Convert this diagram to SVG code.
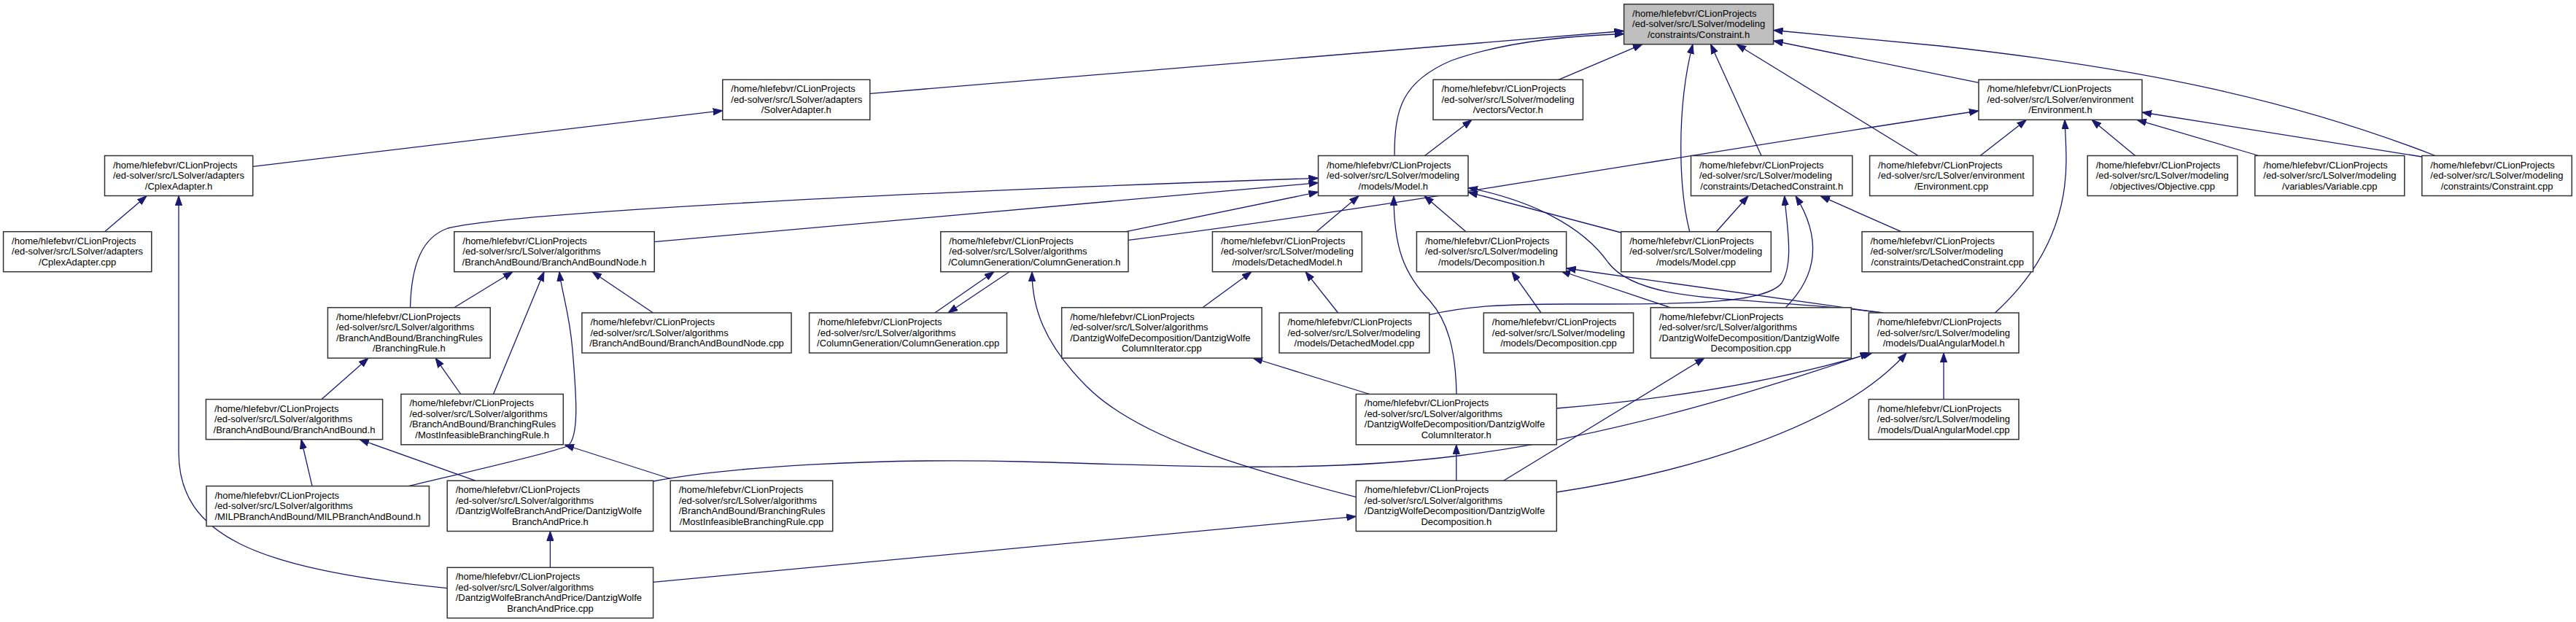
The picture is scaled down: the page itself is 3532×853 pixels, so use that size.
<svg xmlns="http://www.w3.org/2000/svg" width="3532" height="853" viewBox="0 0 3532 853">
<style>
.n rect{fill:#fff;stroke:#333;stroke-width:1.5}
.n rect.g{fill:#bfbfbf}
.n text{font-family:"Liberation Sans",Arial,Helvetica,sans-serif;font-size:13px;fill:#000}
.n text.c{text-anchor:middle}
#edges path{fill:none;stroke:#191970;stroke-width:1.3;marker-end:url(#ah)}
</style>
<defs>
<marker id="ah" viewBox="0 0 13 10" refX="13" refY="5" markerWidth="13" markerHeight="10" markerUnits="userSpaceOnUse" orient="auto"><path d="M0,0.4 L13,5 L0,9.6 z" fill="#191970" stroke="#191970" stroke-width="1"/></marker>
</defs>
<rect width="3532" height="853" fill="#fff"/>
<g id="edges">
<path d="M1192.8,128.3 L2226.6,42.5"/>
<path d="M1912,213.5 C1912,150 1922,112 1990,83 C2060,58 2150,49 2226.6,46.5"/>
<path d="M2137,109.3 L2252,60.7"/>
<path d="M2316.7,317.7 C2302,260 2298,150 2321,60.7"/>
<path d="M2415,213.5 L2345.5,60.7"/>
<path d="M2630,213.5 L2381,60.7"/>
<path d="M2713,113.3 L2431.6,56"/>
<path d="M3339,213.5 C3150,140 2950,95 2660,63 C2560,53 2480,46 2431.6,41.5"/>
<path d="M346.7,228.3 L990.8,151.7"/>
<path d="M143.5,317.7 L201,268.7"/>
<path d="M613.2,806.7 C350,780 245,735 245,620 L245,268.7"/>
<path d="M1953.5,213.5 L2018,164.3"/>
<path d="M562.5,421.7 C564,360 580,325 614,313 C700,292 1200,265 1807.5,244.3"/>
<path d="M897.2,331.7 L1807.5,250.7"/>
<path d="M1544,317.7 L1807.5,263.3"/>
<path d="M1547,329.3 C1900,285 2250,222 2713,152"/>
<path d="M1805,317.7 L1863,268.7"/>
<path d="M2010,317.7 L1953,268.7"/>
<path d="M1997,540.5 C1996,480 1985,440 1960,412 C1925,375 1911,340 1911,268.7"/>
<path d="M2222.7,319 L2013,263.5"/>
<path d="M2581.7,429 C2400,405 2250,420 2205,360 C2170,310 2100,275 2013,257.5"/>
<path d="M2580,429 L2147.7,368"/>
<path d="M2290,421.7 L2140,371.5"/>
<path d="M2113,429 L2073,372.7"/>
<path d="M1834.6,429 L1790,372.7"/>
<path d="M1649,421.7 L1716,372.7"/>
<path d="M2353.3,317.7 L2397,268.7"/>
<path d="M1959.8,431.7 C2010,420 2060,417 2150,417 C2300,417 2420,418 2443,388 C2460,360 2450,310 2446.7,268.7"/>
<path d="M2448.3,421.7 C2490,380 2500,330 2462,268.7"/>
<path d="M2606.7,317.7 L2496,268.7"/>
<path d="M2715.2,213.5 L2778.4,164.3"/>
<path d="M2735.4,429 C2800,370 2833,300 2833,220 C2833,200 2832,185 2831,164.3"/>
<path d="M2927.6,213.5 L2868,164.3"/>
<path d="M3097,213.5 L2930,164.3"/>
<path d="M3320.8,215 L2937,154"/>
<path d="M1281.8,429 L1363,372.7"/>
<path d="M1384,372.7 L1300,429"/>
<path d="M1859.3,681.7 C1700,640 1560,600 1490,530 C1430,470 1415,420 1415,372.7"/>
<path d="M895.6,798.3 L1859.3,708.3"/>
<path d="M1996.8,659.2 L1996.8,609.8"/>
<path d="M2061.5,659.2 L2337,491"/>
<path d="M2134.3,675 C2300,650 2520,590 2614,484"/>
<path d="M1877.7,540.5 L1718,491"/>
<path d="M2134.3,560 Q2380,540 2567,484"/>
<path d="M895.6,660 C1000,640 1200,628 1400,633 C1600,638 1800,650 2000,625 C2200,600 2400,540 2563.6,484"/>
<path d="M2665,547.6 L2665,484"/>
<path d="M754.4,778.3 L754.4,728.5"/>
<path d="M651.7,659.2 L493,602.6"/>
<path d="M428,666.6 L413,602.6"/>
<path d="M441,547.6 L505,491.1"/>
<path d="M631.7,540.5 L597,491.1"/>
<path d="M622.8,421.7 L703,372.7"/>
<path d="M676.5,540.5 L746,372.7"/>
<path d="M560,666.6 C650,645 740,625 778,612 C795,600 790,540 785,480 C781,430 770,400 767,372.7"/>
<path d="M919.2,656.5 L774,610"/>
<path d="M895.4,429 L812,372.7"/>
</g>
<g id="n_constraint_h" class="n"><rect class="g" x="2226.6" y="5.7" width="205" height="55"/><text x="2238.1" y="22.7">/home/hlefebvr/CLionProjects</text><text x="2238.1" y="37.2">/ed-solver/src/LSolver/modeling</text><text class="c" x="2329.1" y="51.7">/constraints/Constraint.h</text></g>
<g id="n_solveradapter_h" class="n"><rect x="990.8" y="109.3" width="202" height="55"/><text x="1002.3" y="126.3">/home/hlefebvr/CLionProjects</text><text x="1002.3" y="140.8">/ed-solver/src/LSolver/adapters</text><text class="c" x="1091.8" y="155.3">/SolverAdapter.h</text></g>
<g id="n_vector_h" class="n"><rect x="1965" y="109.3" width="205.4" height="55"/><text x="1976.5" y="126.3">/home/hlefebvr/CLionProjects</text><text x="1976.5" y="140.8">/ed-solver/src/LSolver/modeling</text><text class="c" x="2067.7" y="155.3">/vectors/Vector.h</text></g>
<g id="n_environment_h" class="n"><rect x="2713" y="109.3" width="224" height="55"/><text x="2724.5" y="126.3">/home/hlefebvr/CLionProjects</text><text x="2724.5" y="140.8">/ed-solver/src/LSolver/environment</text><text class="c" x="2825" y="155.3">/Environment.h</text></g>
<g id="n_cplexadapter_h" class="n"><rect x="143.5" y="213.5" width="203.2" height="55"/><text x="155" y="230.5">/home/hlefebvr/CLionProjects</text><text x="155" y="245">/ed-solver/src/LSolver/adapters</text><text class="c" x="245.1" y="259.5">/CplexAdapter.h</text></g>
<g id="n_model_h" class="n"><rect x="1807.5" y="213.5" width="205.5" height="55"/><text x="1819" y="230.5">/home/hlefebvr/CLionProjects</text><text x="1819" y="245">/ed-solver/src/LSolver/modeling</text><text class="c" x="1910.3" y="259.5">/models/Model.h</text></g>
<g id="n_detachedconstraint_h" class="n"><rect x="2318.5" y="213.5" width="221.3" height="55"/><text x="2330" y="230.5">/home/hlefebvr/CLionProjects</text><text x="2330" y="245">/ed-solver/src/LSolver/modeling</text><text class="c" x="2429.2" y="259.5">/constraints/DetachedConstraint.h</text></g>
<g id="n_environment_cpp" class="n"><rect x="2563.6" y="213.5" width="224" height="55"/><text x="2575.1" y="230.5">/home/hlefebvr/CLionProjects</text><text x="2575.1" y="245">/ed-solver/src/LSolver/environment</text><text class="c" x="2675.6" y="259.5">/Environment.cpp</text></g>
<g id="n_objective_cpp" class="n"><rect x="2862.2" y="213.5" width="205.5" height="55"/><text x="2873.7" y="230.5">/home/hlefebvr/CLionProjects</text><text x="2873.7" y="245">/ed-solver/src/LSolver/modeling</text><text class="c" x="2965" y="259.5">/objectives/Objective.cpp</text></g>
<g id="n_variable_cpp" class="n"><rect x="3091.8" y="213.5" width="205" height="55"/><text x="3103.3" y="230.5">/home/hlefebvr/CLionProjects</text><text x="3103.3" y="245">/ed-solver/src/LSolver/modeling</text><text class="c" x="3194.3" y="259.5">/variables/Variable.cpp</text></g>
<g id="n_constraint_cpp" class="n"><rect x="3320.8" y="213.5" width="205.5" height="55"/><text x="3332.3" y="230.5">/home/hlefebvr/CLionProjects</text><text x="3332.3" y="245">/ed-solver/src/LSolver/modeling</text><text class="c" x="3423.6" y="259.5">/constraints/Constraint.cpp</text></g>
<g id="n_cplexadapter_cpp" class="n"><rect x="4.6" y="317.7" width="203.2" height="55"/><text x="16.1" y="334.7">/home/hlefebvr/CLionProjects</text><text x="16.1" y="349.2">/ed-solver/src/LSolver/adapters</text><text class="c" x="106.2" y="363.7">/CplexAdapter.cpp</text></g>
<g id="n_branchandboundnode_h" class="n"><rect x="622.8" y="317.7" width="274.4" height="55"/><text x="634.3" y="334.7">/home/hlefebvr/CLionProjects</text><text x="634.3" y="349.2">/ed-solver/src/LSolver/algorithms</text><text class="c" x="760" y="363.7">/BranchAndBound/BranchAndBoundNode.h</text></g>
<g id="n_columngeneration_h" class="n"><rect x="1289.8" y="317.7" width="257.2" height="55"/><text x="1301.3" y="334.7">/home/hlefebvr/CLionProjects</text><text x="1301.3" y="349.2">/ed-solver/src/LSolver/algorithms</text><text class="c" x="1418.4" y="363.7">/ColumnGeneration/ColumnGeneration.h</text></g>
<g id="n_detachedmodel_h" class="n"><rect x="1662.4" y="317.7" width="204.9" height="55"/><text x="1673.9" y="334.7">/home/hlefebvr/CLionProjects</text><text x="1673.9" y="349.2">/ed-solver/src/LSolver/modeling</text><text class="c" x="1764.9" y="363.7">/models/DetachedModel.h</text></g>
<g id="n_decomposition_h" class="n"><rect x="1942.4" y="317.7" width="205.2" height="55"/><text x="1953.9" y="334.7">/home/hlefebvr/CLionProjects</text><text x="1953.9" y="349.2">/ed-solver/src/LSolver/modeling</text><text class="c" x="2045" y="363.7">/models/Decomposition.h</text></g>
<g id="n_model_cpp" class="n"><rect x="2222.7" y="317.7" width="205.6" height="55"/><text x="2234.2" y="334.7">/home/hlefebvr/CLionProjects</text><text x="2234.2" y="349.2">/ed-solver/src/LSolver/modeling</text><text class="c" x="2325.5" y="363.7">/models/Model.cpp</text></g>
<g id="n_detachedconstraint_cpp" class="n"><rect x="2553" y="317.7" width="234.6" height="55"/><text x="2564.5" y="334.7">/home/hlefebvr/CLionProjects</text><text x="2564.5" y="349.2">/ed-solver/src/LSolver/modeling</text><text class="c" x="2670.3" y="363.7">/constraints/DetachedConstraint.cpp</text></g>
<g id="n_branchingrule_h" class="n"><rect x="449.4" y="421.8" width="222.8" height="69.3"/><text x="460.9" y="438.7">/home/hlefebvr/CLionProjects</text><text x="460.9" y="453.2">/ed-solver/src/LSolver/algorithms</text><text x="460.9" y="467.7">/BranchAndBound/BranchingRules</text><text class="c" x="560.8" y="482.2">/BranchingRule.h</text></g>
<g id="n_branchandboundnode_cpp" class="n"><rect x="797.9" y="429" width="287.1" height="55"/><text x="809.4" y="446">/home/hlefebvr/CLionProjects</text><text x="809.4" y="460.5">/ed-solver/src/LSolver/algorithms</text><text class="c" x="941.5" y="475">/BranchAndBound/BranchAndBoundNode.cpp</text></g>
<g id="n_columngeneration_cpp" class="n"><rect x="1109.6" y="429" width="270.9" height="55"/><text x="1121.1" y="446">/home/hlefebvr/CLionProjects</text><text x="1121.1" y="460.5">/ed-solver/src/LSolver/algorithms</text><text class="c" x="1245.1" y="475">/ColumnGeneration/ColumnGeneration.cpp</text></g>
<g id="n_columniterator_cpp" class="n"><rect x="1455.7" y="421.8" width="274.4" height="69.3"/><text x="1467.2" y="438.7">/home/hlefebvr/CLionProjects</text><text x="1467.2" y="453.2">/ed-solver/src/LSolver/algorithms</text><text x="1467.2" y="467.7">/DantzigWolfeDecomposition/DantzigWolfe</text><text class="c" x="1592.9" y="482.2">ColumnIterator.cpp</text></g>
<g id="n_detachedmodel_cpp" class="n"><rect x="1754" y="429" width="205.8" height="55"/><text x="1765.5" y="446">/home/hlefebvr/CLionProjects</text><text x="1765.5" y="460.5">/ed-solver/src/LSolver/modeling</text><text class="c" x="1856.9" y="475">/models/DetachedModel.cpp</text></g>
<g id="n_decomposition_cpp" class="n"><rect x="2034.3" y="429" width="205.3" height="55"/><text x="2045.8" y="446">/home/hlefebvr/CLionProjects</text><text x="2045.8" y="460.5">/ed-solver/src/LSolver/modeling</text><text class="c" x="2137" y="475">/models/Decomposition.cpp</text></g>
<g id="n_dwdecomposition_cpp" class="n"><rect x="2263.3" y="421.8" width="275" height="69.3"/><text x="2274.8" y="438.7">/home/hlefebvr/CLionProjects</text><text x="2274.8" y="453.2">/ed-solver/src/LSolver/algorithms</text><text x="2274.8" y="467.7">/DantzigWolfeDecomposition/DantzigWolfe</text><text class="c" x="2400.8" y="482.2">Decomposition.cpp</text></g>
<g id="n_dualangularmodel_h" class="n"><rect x="2562.3" y="429" width="205.7" height="55"/><text x="2573.8" y="446">/home/hlefebvr/CLionProjects</text><text x="2573.8" y="460.5">/ed-solver/src/LSolver/modeling</text><text class="c" x="2665.2" y="475">/models/DualAngularModel.h</text></g>
<g id="n_branchandbound_h" class="n"><rect x="282.4" y="547.6" width="242.2" height="55"/><text x="293.9" y="564.6">/home/hlefebvr/CLionProjects</text><text x="293.9" y="579.1">/ed-solver/src/LSolver/algorithms</text><text class="c" x="403.5" y="593.6">/BranchAndBound/BranchAndBound.h</text></g>
<g id="n_mibr_h" class="n"><rect x="549.9" y="540.5" width="222.4" height="69.3"/><text x="561.4" y="557.4">/home/hlefebvr/CLionProjects</text><text x="561.4" y="571.9">/ed-solver/src/LSolver/algorithms</text><text x="561.4" y="586.4">/BranchAndBound/BranchingRules</text><text class="c" x="661.1" y="600.9">/MostInfeasibleBranchingRule.h</text></g>
<g id="n_columniterator_h" class="n"><rect x="1859.3" y="540.5" width="275" height="69.3"/><text x="1870.8" y="557.4">/home/hlefebvr/CLionProjects</text><text x="1870.8" y="571.9">/ed-solver/src/LSolver/algorithms</text><text x="1870.8" y="586.4">/DantzigWolfeDecomposition/DantzigWolfe</text><text class="c" x="1996.8" y="600.9">ColumnIterator.h</text></g>
<g id="n_dualangularmodel_cpp" class="n"><rect x="2562.3" y="547.6" width="205.7" height="55"/><text x="2573.8" y="564.6">/home/hlefebvr/CLionProjects</text><text x="2573.8" y="579.1">/ed-solver/src/LSolver/modeling</text><text class="c" x="2665.2" y="593.6">/models/DualAngularModel.cpp</text></g>
<g id="n_milpbranchandbound_h" class="n"><rect x="283" y="666.6" width="305.4" height="55"/><text x="294.5" y="683.6">/home/hlefebvr/CLionProjects</text><text x="294.5" y="698.1">/ed-solver/src/LSolver/algorithms</text><text class="c" x="435.7" y="712.6">/MILPBranchAndBound/MILPBranchAndBound.h</text></g>
<g id="n_dwbranchandprice_h" class="n"><rect x="613.2" y="659.2" width="282.4" height="69.3"/><text x="624.7" y="676.1">/home/hlefebvr/CLionProjects</text><text x="624.7" y="690.6">/ed-solver/src/LSolver/algorithms</text><text x="624.7" y="705.1">/DantzigWolfeBranchAndPrice/DantzigWolfe</text><text class="c" x="754.4" y="719.6">BranchAndPrice.h</text></g>
<g id="n_mibr_cpp" class="n"><rect x="919.2" y="659.2" width="222.5" height="69.3"/><text x="930.7" y="676.1">/home/hlefebvr/CLionProjects</text><text x="930.7" y="690.6">/ed-solver/src/LSolver/algorithms</text><text x="930.7" y="705.1">/BranchAndBound/BranchingRules</text><text class="c" x="1030.5" y="719.6">/MostInfeasibleBranchingRule.cpp</text></g>
<g id="n_dwdecomposition_h" class="n"><rect x="1859.3" y="659.2" width="275" height="69.3"/><text x="1870.8" y="676.1">/home/hlefebvr/CLionProjects</text><text x="1870.8" y="690.6">/ed-solver/src/LSolver/algorithms</text><text x="1870.8" y="705.1">/DantzigWolfeDecomposition/DantzigWolfe</text><text class="c" x="1996.8" y="719.6">Decomposition.h</text></g>
<g id="n_dwbranchandprice_cpp" class="n"><rect x="613.2" y="778.3" width="282.4" height="69.3"/><text x="624.7" y="795.2">/home/hlefebvr/CLionProjects</text><text x="624.7" y="809.7">/ed-solver/src/LSolver/algorithms</text><text x="624.7" y="824.2">/DantzigWolfeBranchAndPrice/DantzigWolfe</text><text class="c" x="754.4" y="838.7">BranchAndPrice.cpp</text></g>
</svg>
